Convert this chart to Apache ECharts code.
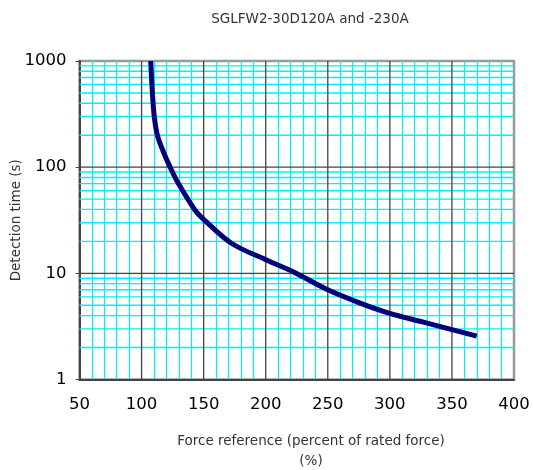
<!DOCTYPE html>
<html>
<head>
<meta charset="utf-8">
<script src="https://cdn.jsdelivr.net/npm/echarts@6/dist/echarts.min.js"></script>
<style>
  html, body { margin: 0; padding: 0; background: #fff; }
  #chart { width: 533px; height: 470px; }
</style>
</head>
<body>
<div id="chart"></div>
<script>
// curve: force (%) / detection time (s)
var force = [107.4, 108.5, 110.1, 112.7, 117.6, 123, 129.7, 143.1, 150, 172.7, 201, 222.4, 250, 276, 300, 327, 350, 370];
var time  = [1000, 552, 309, 200, 139, 100, 70, 39.3, 32.3, 19.1, 13.3, 10.3, 7.0, 5.25, 4.2, 3.47, 2.95, 2.56];

// log paper grid: minor = 2..9 of each decade, major = decades and every 50 %
var minorY = [2, 3, 4, 5, 6, 7, 8, 9, 20, 30, 40, 50, 60, 70, 80, 90, 200, 300, 400, 500, 600, 700, 800, 900];
var majorY = [10, 100];
var majorX = [100, 150, 200, 250, 300, 350];

var chart = echarts.init(document.getElementById("chart"));

var curve = [];
for (var i = 0; i < force.length; i++) curve.push([force[i], time[i]]);

var font = "DejaVu Sans, Verdana, sans-serif";

// draws one full-width (or full-height) grid line per data value
function gridLine(vertical, color, width) {
  return function (params, api) {
    var cs = params.coordSys;
    var v = api.value(0);
    var x1, y1, x2, y2;
    if (vertical) {
      x1 = x2 = api.coord([v, 1])[0];
      y1 = cs.y; y2 = cs.y + cs.height;
    } else {
      y1 = y2 = api.coord([50, v])[1];
      x1 = cs.x; x2 = cs.x + cs.width;
    }
    return {
      type: "line", silent: true,
      shape: { x1: x1, y1: y1, x2: x2, y2: y2 },
      style: { stroke: color, lineWidth: width }
    };
  };
}

var option = {
  animation: false,
  title: [{
    text: "SGLFW2-30D120A and -230A",
    left: 305, top: 7, textAlign: "center",
    textStyle: { fontSize: 13.5, fontWeight: "normal", color: "#333", fontFamily: font }
  }, {
    text: "Force reference (percent of rated force)",
    left: 306, top: 429, textAlign: "center",
    textStyle: { fontSize: 13.5, fontWeight: "normal", color: "#333", fontFamily: font }
  }, {
    text: "(%)",
    left: 306, top: 449, textAlign: "center",
    textStyle: { fontSize: 13.5, fontWeight: "normal", color: "#333", fontFamily: font }
  }],
  grid: {
    left: 79.5, right: 19, top: 61, bottom: 90.5,
    outerBoundsMode: "none", containLabel: false,
    show: true, borderColor: "#999", borderWidth: 2.5
  },
  xAxis: {
    type: "value", min: 50, max: 400, interval: 50,
    axisLine: { show: true, lineStyle: { color: "#444", width: 2 } },
    axisTick: { show: false },
    axisLabel: { fontSize: 16.5, color: "#000", margin: 17, fontFamily: font },
    splitLine: { show: false },
    minorTick: { show: false, splitNumber: 5 },
    minorSplitLine: { show: true, lineStyle: { color: "#00f0f8", width: 1.2 } }
  },
  yAxis: {
    type: "log", logBase: 10, min: 1, max: 1000,
    name: "Detection time (s)", nameLocation: "middle", nameGap: 56,
    nameMoveOverlap: false,
    nameTextStyle: { fontSize: 13.5, color: "#333", fontFamily: font },
    axisLine: { show: true, lineStyle: { color: "#444", width: 2 } },
    axisTick: { show: true, length: 4, lineStyle: { color: "#444" } },
    axisLabel: {
      fontSize: 16.5, color: "#000", margin: 13, fontFamily: font,
      formatter: function (v) { return String(v); }
    },
    splitLine: { show: false },
    minorTick: { show: false },
    minorSplitLine: { show: false }
  },
  series: [{
    type: "custom", z: 1, silent: true,
    renderItem: gridLine(false, "#00f0f8", 1.4),
    data: minorY.map(function (v) { return [v]; }),
    encode: { y: 0 }
  }, {
    type: "custom", z: 2, silent: true,
    renderItem: gridLine(false, "#444", 1.3),
    data: majorY.map(function (v) { return [v]; }),
    encode: { y: 0 }
  }, {
    type: "custom", z: 2, silent: true,
    renderItem: gridLine(true, "#444", 1.3),
    data: majorX.map(function (v) { return [v]; }),
    encode: { x: 0 }
  }, {
    type: "line", data: curve, smooth: 0.35, showSymbol: false, z: 5,
    lineStyle: { color: "#000078", width: 5 }
  }]
};

chart.setOption(option);
</script>
</body>
</html>
